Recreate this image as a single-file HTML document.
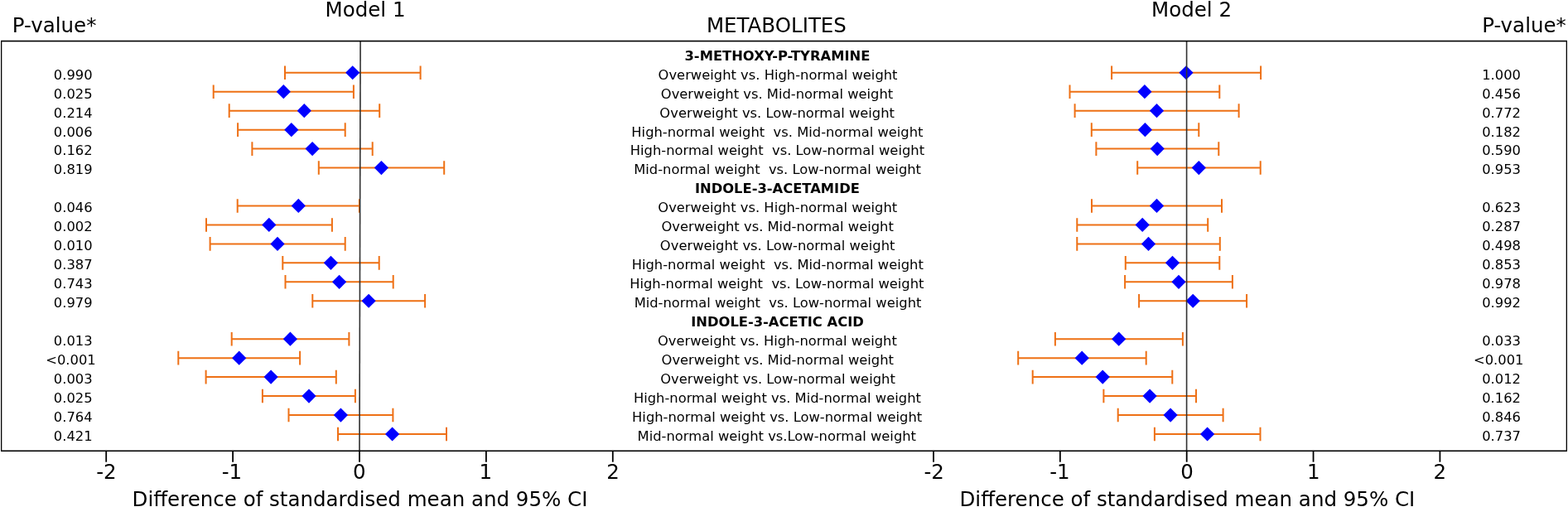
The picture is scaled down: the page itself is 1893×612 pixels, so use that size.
<!DOCTYPE html>
<html><head><meta charset="utf-8"><title>Forest plot</title>
<style>html,body{margin:0;padding:0;background:#fff;}svg{display:block;}</style>
</head><body>
<svg width="1893" height="612" viewBox="0 0 1893 612">
<rect x="0" y="0" width="1893" height="612" fill="#fff"/>
<defs><filter id="b" x="0" y="0" width="1" height="1"><feGaussianBlur stdDeviation="0.3"/></filter></defs><g filter="url(#b)">
<g stroke="#ee7014" stroke-width="2.0" fill="none">
<path d="M344.00 87.75H507.60M344.00 79.45V96.05M507.60 79.45V96.05"/>
<path d="M257.70 110.71H426.90M257.70 102.41V119.01M426.90 102.41V119.01"/>
<path d="M276.70 133.67H458.20M276.70 125.37V141.97M458.20 125.37V141.97"/>
<path d="M287.10 156.63H416.70M287.10 148.33V164.93M416.70 148.33V164.93"/>
<path d="M304.40 179.59H449.70M304.40 171.29V187.89M449.70 171.29V187.89"/>
<path d="M384.80 202.55H536.20M384.80 194.25V210.85M536.20 194.25V210.85"/>
<path d="M286.70 248.47H433.90M286.70 240.17V256.77M433.90 240.17V256.77"/>
<path d="M249.00 271.43H400.90M249.00 263.13V279.73M400.90 263.13V279.73"/>
<path d="M253.60 294.39H416.70M253.60 286.09V302.69M416.70 286.09V302.69"/>
<path d="M341.30 317.35H457.70M341.30 309.05V325.65M457.70 309.05V325.65"/>
<path d="M344.50 340.31H474.70M344.50 332.01V348.61M474.70 332.01V348.61"/>
<path d="M377.30 363.27H513.10M377.30 354.97V371.57M513.10 354.97V371.57"/>
<path d="M279.70 409.19H421.40M279.70 400.89V417.49M421.40 400.89V417.49"/>
<path d="M215.30 432.15H362.10M215.30 423.85V440.45M362.10 423.85V440.45"/>
<path d="M248.60 455.11H405.80M248.60 446.81V463.41M405.80 446.81V463.41"/>
<path d="M316.90 478.07H428.90M316.90 469.77V486.37M428.90 469.77V486.37"/>
<path d="M348.50 501.03H474.40M348.50 492.73V509.33M474.40 492.73V509.33"/>
<path d="M408.00 523.99H539.00M408.00 515.69V532.29M539.00 515.69V532.29"/>
<path d="M1342.10 87.75H1522.10M1342.10 79.45V96.05M1522.10 79.45V96.05"/>
<path d="M1291.50 110.71H1472.30M1291.50 102.41V119.01M1472.30 102.41V119.01"/>
<path d="M1297.60 133.67H1495.60M1297.60 125.37V141.97M1495.60 125.37V141.97"/>
<path d="M1317.80 156.63H1447.30M1317.80 148.33V164.93M1447.30 148.33V164.93"/>
<path d="M1323.40 179.59H1471.30M1323.40 171.29V187.89M1471.30 171.29V187.89"/>
<path d="M1373.20 202.55H1521.70M1373.20 194.25V210.85M1521.70 194.25V210.85"/>
<path d="M1318.00 248.47H1475.00M1318.00 240.17V256.77M1475.00 240.17V256.77"/>
<path d="M1300.30 271.43H1458.20M1300.30 263.13V279.73M1458.20 263.13V279.73"/>
<path d="M1300.30 294.39H1472.80M1300.30 286.09V302.69M1472.80 286.09V302.69"/>
<path d="M1358.80 317.35H1472.30M1358.80 309.05V325.65M1472.30 309.05V325.65"/>
<path d="M1358.10 340.31H1487.90M1358.10 332.01V348.61M1487.90 332.01V348.61"/>
<path d="M1375.10 363.27H1505.10M1375.10 354.97V371.57M1505.10 354.97V371.57"/>
<path d="M1273.90 409.19H1427.90M1273.90 400.89V417.49M1427.90 400.89V417.49"/>
<path d="M1229.20 432.15H1383.70M1229.20 423.85V440.45M1383.70 423.85V440.45"/>
<path d="M1246.70 455.11H1415.30M1246.70 446.81V463.41M1415.30 446.81V463.41"/>
<path d="M1332.40 478.07H1444.00M1332.40 469.77V486.37M1444.00 469.77V486.37"/>
<path d="M1349.70 501.03H1476.60M1349.70 492.73V509.33M1476.60 492.73V509.33"/>
<path d="M1393.90 523.99H1521.50M1393.90 515.69V532.29M1521.50 515.69V532.29"/>
</g>
<g fill="#0000ff">
<path d="M417.10 87.75L425.70 79.15L434.30 87.75L425.70 96.35Z"/>
<path d="M333.70 110.71L342.30 102.11L350.90 110.71L342.30 119.31Z"/>
<path d="M358.70 133.67L367.30 125.07L375.90 133.67L367.30 142.27Z"/>
<path d="M343.20 156.63L351.80 148.03L360.40 156.63L351.80 165.23Z"/>
<path d="M368.50 179.59L377.10 170.99L385.70 179.59L377.10 188.19Z"/>
<path d="M451.80 202.55L460.40 193.95L469.00 202.55L460.40 211.15Z"/>
<path d="M351.70 248.47L360.30 239.87L368.90 248.47L360.30 257.07Z"/>
<path d="M316.20 271.43L324.80 262.83L333.40 271.43L324.80 280.03Z"/>
<path d="M326.40 294.39L335.00 285.79L343.60 294.39L335.00 302.99Z"/>
<path d="M390.80 317.35L399.40 308.75L408.00 317.35L399.40 325.95Z"/>
<path d="M401.00 340.31L409.60 331.71L418.20 340.31L409.60 348.91Z"/>
<path d="M436.50 363.27L445.10 354.67L453.70 363.27L445.10 371.87Z"/>
<path d="M341.80 409.19L350.40 400.59L359.00 409.19L350.40 417.79Z"/>
<path d="M280.10 432.15L288.70 423.55L297.30 432.15L288.70 440.75Z"/>
<path d="M318.50 455.11L327.10 446.51L335.70 455.11L327.10 463.71Z"/>
<path d="M364.40 478.07L373.00 469.47L381.60 478.07L373.00 486.67Z"/>
<path d="M402.80 501.03L411.40 492.43L420.00 501.03L411.40 509.63Z"/>
<path d="M465.00 523.99L473.60 515.39L482.20 523.99L473.60 532.59Z"/>
<path d="M1423.40 87.75L1432.00 79.15L1440.60 87.75L1432.00 96.35Z"/>
<path d="M1373.30 110.71L1381.90 102.11L1390.50 110.71L1381.90 119.31Z"/>
<path d="M1387.90 133.67L1396.50 125.07L1405.10 133.67L1396.50 142.27Z"/>
<path d="M1373.80 156.63L1382.40 148.03L1391.00 156.63L1382.40 165.23Z"/>
<path d="M1388.60 179.59L1397.20 170.99L1405.80 179.59L1397.20 188.19Z"/>
<path d="M1438.70 202.55L1447.30 193.95L1455.90 202.55L1447.30 211.15Z"/>
<path d="M1387.90 248.47L1396.50 239.87L1405.10 248.47L1396.50 257.07Z"/>
<path d="M1370.60 271.43L1379.20 262.83L1387.80 271.43L1379.20 280.03Z"/>
<path d="M1377.90 294.39L1386.50 285.79L1395.10 294.39L1386.50 302.99Z"/>
<path d="M1406.90 317.35L1415.50 308.75L1424.10 317.35L1415.50 325.95Z"/>
<path d="M1414.40 340.31L1423.00 331.71L1431.60 340.31L1423.00 348.91Z"/>
<path d="M1431.60 363.27L1440.20 354.67L1448.80 363.27L1440.20 371.87Z"/>
<path d="M1342.10 409.19L1350.70 400.59L1359.30 409.19L1350.70 417.79Z"/>
<path d="M1297.60 432.15L1306.20 423.55L1314.80 432.15L1306.20 440.75Z"/>
<path d="M1322.60 455.11L1331.20 446.51L1339.80 455.11L1331.20 463.71Z"/>
<path d="M1379.50 478.07L1388.10 469.47L1396.70 478.07L1388.10 486.67Z"/>
<path d="M1404.50 501.03L1413.10 492.43L1421.70 501.03L1413.10 509.63Z"/>
<path d="M1449.00 523.99L1457.60 515.39L1466.20 523.99L1457.60 532.59Z"/>
</g>
<g stroke="#303030" stroke-width="1.6" fill="none">
<path d="M435.1 49.6L434 544.3"/>
<path d="M1432.6 49.6L1432.6 544.3"/>
</g>
<rect x="1.5" y="49.6" width="1890" height="494.7" fill="none" stroke="#000" stroke-width="1.6"/>
<g stroke="#000" stroke-width="1.8" fill="none">
<path d="M128.20 544.3V557.7"/>
<path d="M1127.00 544.3V557.7"/>
<path d="M281.10 544.3V557.7"/>
<path d="M1279.85 544.3V557.7"/>
<path d="M434.00 544.3V557.7"/>
<path d="M1432.70 544.3V557.7"/>
<path d="M586.90 544.3V557.7"/>
<path d="M1585.55 544.3V557.7"/>
<path d="M739.80 544.3V557.7"/>
<path d="M1738.40 544.3V557.7"/>
</g>
<g font-family="DejaVu Sans, sans-serif" fill="#000">
<text x="128.50" y="577.9" font-size="24.5" text-anchor="middle">-2</text>
<text x="1127.60" y="577.9" font-size="24.5" text-anchor="middle">-2</text>
<text x="279.90" y="577.9" font-size="24.5" text-anchor="middle">-1</text>
<text x="1279.45" y="577.9" font-size="24.5" text-anchor="middle">-1</text>
<text x="433.75" y="577.9" font-size="24.5" text-anchor="middle">0</text>
<text x="1433.00" y="577.9" font-size="24.5" text-anchor="middle">0</text>
<text x="586.40" y="577.9" font-size="24.5" text-anchor="middle">1</text>
<text x="1585.70" y="577.9" font-size="24.5" text-anchor="middle">1</text>
<text x="740.00" y="577.9" font-size="24.5" text-anchor="middle">2</text>
<text x="1738.40" y="577.9" font-size="24.5" text-anchor="middle">2</text>
<text x="434.5" y="611" font-size="24.5" text-anchor="middle">Difference of standardised mean and 95% CI</text>
<text x="1433.4" y="611" font-size="24.5" text-anchor="middle">Difference of standardised mean and 95% CI</text>
<text x="441" y="19.8" font-size="24.5" text-anchor="middle">Model 1</text>
<text x="1438.5" y="19.7" font-size="24.5" text-anchor="middle">Model 2</text>
<text x="937.4" y="39.2" font-size="24.5" text-anchor="middle">METABOLITES</text>
<text x="65.6" y="39.2" font-size="24.5" text-anchor="middle">P-value*</text>
<text x="1840" y="39.2" font-size="24.5" text-anchor="middle">P-value*</text>
<text transform="translate(938.40 72.69) scale(1 1.0)" font-size="16.33" text-anchor="middle" font-weight="bold">3-METHOXY-P-TYRAMINE</text>
<text transform="translate(939.05 95.65) scale(1 1.0)" font-size="16.33" text-anchor="middle">Overweight vs. High-normal weight</text>
<text transform="translate(938.00 118.61) scale(1 1.0)" font-size="16.33" text-anchor="middle">Overweight vs. Mid-normal weight</text>
<text transform="translate(938.15 141.57) scale(1 1.0)" font-size="16.33" text-anchor="middle">Overweight vs. Low-normal weight</text>
<text transform="translate(938.40 164.53) scale(1 1.0)" font-size="16.33" text-anchor="middle">High-normal weight&#160; vs. Mid-normal weight</text>
<text transform="translate(938.40 187.49) scale(1 1.0)" font-size="16.33" text-anchor="middle">High-normal weight&#160; vs. Low-normal weight</text>
<text transform="translate(938.60 210.45) scale(1 1.0)" font-size="16.33" text-anchor="middle">Mid-normal weight&#160; vs. Low-normal weight</text>
<text transform="translate(938.40 233.41) scale(1 1.0)" font-size="16.33" text-anchor="middle" font-weight="bold">INDOLE-3-ACETAMIDE</text>
<text transform="translate(938.75 256.37) scale(1 1.0)" font-size="16.33" text-anchor="middle">Overweight vs. High-normal weight</text>
<text transform="translate(938.65 279.33) scale(1 1.0)" font-size="16.33" text-anchor="middle">Overweight vs. Mid-normal weight</text>
<text transform="translate(938.65 302.29) scale(1 1.0)" font-size="16.33" text-anchor="middle">Overweight vs. Low-normal weight</text>
<text transform="translate(938.75 325.25) scale(1 1.0)" font-size="16.33" text-anchor="middle">High-normal weight&#160; vs. Mid-normal weight</text>
<text transform="translate(937.80 348.21) scale(1 1.0)" font-size="16.33" text-anchor="middle">High-normal weight&#160; vs. Low-normal weight</text>
<text transform="translate(939.00 371.17) scale(1 1.0)" font-size="16.33" text-anchor="middle">Mid-normal weight&#160; vs. Low-normal weight</text>
<text transform="translate(938.50 394.13) scale(1 1.0)" font-size="16.33" text-anchor="middle" font-weight="bold">INDOLE-3-ACETIC ACID</text>
<text transform="translate(938.40 417.09) scale(1 1.0)" font-size="16.33" text-anchor="middle">Overweight vs. High-normal weight</text>
<text transform="translate(938.75 440.05) scale(1 1.0)" font-size="16.33" text-anchor="middle">Overweight vs. Mid-normal weight</text>
<text transform="translate(939.00 463.01) scale(1 1.0)" font-size="16.33" text-anchor="middle">Overweight vs. Low-normal weight</text>
<text transform="translate(938.40 485.97) scale(1 1.0)" font-size="16.33" text-anchor="middle">High-normal weight vs. Mid-normal weight</text>
<text transform="translate(938.15 508.93) scale(1 1.0)" font-size="16.33" text-anchor="middle">High-normal weight vs. Low-normal weight</text>
<text transform="translate(937.80 531.89) scale(1 1.0)" font-size="16.33" text-anchor="middle">Mid-normal weight vs.Low-normal weight</text>
<text transform="translate(88.20 95.65) scale(1 1.0)" font-size="16.33" text-anchor="middle">0.990</text>
<text transform="translate(88.20 118.61) scale(1 1.0)" font-size="16.33" text-anchor="middle">0.025</text>
<text transform="translate(88.20 141.57) scale(1 1.0)" font-size="16.33" text-anchor="middle">0.214</text>
<text transform="translate(88.20 164.53) scale(1 1.0)" font-size="16.33" text-anchor="middle">0.006</text>
<text transform="translate(88.20 187.49) scale(1 1.0)" font-size="16.33" text-anchor="middle">0.162</text>
<text transform="translate(88.20 210.45) scale(1 1.0)" font-size="16.33" text-anchor="middle">0.819</text>
<text transform="translate(88.20 256.37) scale(1 1.0)" font-size="16.33" text-anchor="middle">0.046</text>
<text transform="translate(88.20 279.33) scale(1 1.0)" font-size="16.33" text-anchor="middle">0.002</text>
<text transform="translate(88.20 302.29) scale(1 1.0)" font-size="16.33" text-anchor="middle">0.010</text>
<text transform="translate(88.20 325.25) scale(1 1.0)" font-size="16.33" text-anchor="middle">0.387</text>
<text transform="translate(88.20 348.21) scale(1 1.0)" font-size="16.33" text-anchor="middle">0.743</text>
<text transform="translate(88.20 371.17) scale(1 1.0)" font-size="16.33" text-anchor="middle">0.979</text>
<text transform="translate(88.20 417.09) scale(1 1.0)" font-size="16.33" text-anchor="middle">0.013</text>
<text transform="translate(85.50 440.05) scale(1 1.0)" font-size="16.33" text-anchor="middle">&lt;0.001</text>
<text transform="translate(88.20 463.01) scale(1 1.0)" font-size="16.33" text-anchor="middle">0.003</text>
<text transform="translate(88.20 485.97) scale(1 1.0)" font-size="16.33" text-anchor="middle">0.025</text>
<text transform="translate(88.20 508.93) scale(1 1.0)" font-size="16.33" text-anchor="middle">0.764</text>
<text transform="translate(88.20 531.89) scale(1 1.0)" font-size="16.33" text-anchor="middle">0.421</text>
<text transform="translate(1812.60 95.65) scale(1 1.0)" font-size="16.33" text-anchor="middle">1.000</text>
<text transform="translate(1812.60 118.61) scale(1 1.0)" font-size="16.33" text-anchor="middle">0.456</text>
<text transform="translate(1812.60 141.57) scale(1 1.0)" font-size="16.33" text-anchor="middle">0.772</text>
<text transform="translate(1812.60 164.53) scale(1 1.0)" font-size="16.33" text-anchor="middle">0.182</text>
<text transform="translate(1812.60 187.49) scale(1 1.0)" font-size="16.33" text-anchor="middle">0.590</text>
<text transform="translate(1812.60 210.45) scale(1 1.0)" font-size="16.33" text-anchor="middle">0.953</text>
<text transform="translate(1812.60 256.37) scale(1 1.0)" font-size="16.33" text-anchor="middle">0.623</text>
<text transform="translate(1812.60 279.33) scale(1 1.0)" font-size="16.33" text-anchor="middle">0.287</text>
<text transform="translate(1812.60 302.29) scale(1 1.0)" font-size="16.33" text-anchor="middle">0.498</text>
<text transform="translate(1812.60 325.25) scale(1 1.0)" font-size="16.33" text-anchor="middle">0.853</text>
<text transform="translate(1812.60 348.21) scale(1 1.0)" font-size="16.33" text-anchor="middle">0.978</text>
<text transform="translate(1812.60 371.17) scale(1 1.0)" font-size="16.33" text-anchor="middle">0.992</text>
<text transform="translate(1812.60 417.09) scale(1 1.0)" font-size="16.33" text-anchor="middle">0.033</text>
<text transform="translate(1809.20 440.05) scale(1 1.0)" font-size="16.33" text-anchor="middle">&lt;0.001</text>
<text transform="translate(1812.60 463.01) scale(1 1.0)" font-size="16.33" text-anchor="middle">0.012</text>
<text transform="translate(1812.60 485.97) scale(1 1.0)" font-size="16.33" text-anchor="middle">0.162</text>
<text transform="translate(1812.60 508.93) scale(1 1.0)" font-size="16.33" text-anchor="middle">0.846</text>
<text transform="translate(1812.60 531.89) scale(1 1.0)" font-size="16.33" text-anchor="middle">0.737</text>
</g>
</g>
</svg>
</body></html>
